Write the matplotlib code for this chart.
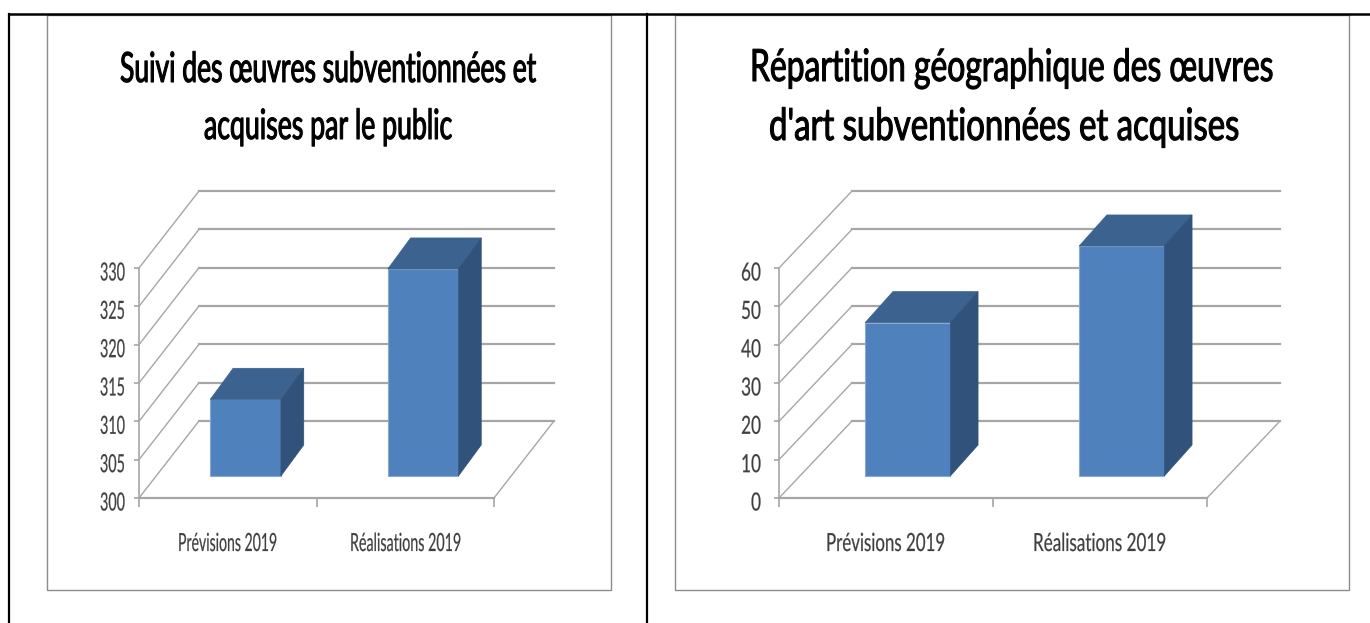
import matplotlib
matplotlib.use('Agg')
import matplotlib.pyplot as plt
from matplotlib.patches import Rectangle
from matplotlib.patheffects import AbstractPathEffect
from matplotlib.transforms import Affine2D

# chart data
categories = ['Prévisions 2019', 'Réalisations 2019']
title_left = ['Suivi des œuvres subventionnées et', 'acquises par le public']
values_left = [310, 327]
ticks_left = [300, 305, 310, 315, 320, 325, 330]
title_right = ['Répartition géographique des œuvres', "d'art subventionnées et acquises"]
values_right = [40, 60]
ticks_right = [0, 10, 20, 30, 40, 50, 60]

W, H = 1370, 623
plt.rcParams['font.family'] = ['Lato', 'DejaVu Sans']

GREY = '#a6a6a6'
LABEL = '#3f3f3f'

fig = plt.figure(figsize=(W / 100, H / 100), dpi=100, facecolor='white')
renderer = fig.canvas.get_renderer()

# page layer in pixels, y going down
page = fig.add_axes([0, 0, 1, 1])
page.set_xlim(0, W)
page.set_ylim(H, 0)
page.axis('off')


class Squeeze(AbstractPathEffect):
    # the reference text is stretched tall, so narrow the glyphs around x = cx
    def __init__(self, sx, cx, dy=0, stroke=0.0):
        super().__init__()
        self.sx, self.cx, self.dy, self.stroke = sx, cx, dy, stroke

    def draw_path(self, renderer, gc, tpath, affine, rgbFace=None):
        squeeze = Affine2D().translate(-self.cx, self.dy).scale(self.sx, 1).translate(self.cx, 0)
        gc.set_linewidth(self.stroke)
        renderer.draw_path(gc, tpath, affine + squeeze, rgbFace)


def fitted_text(s, x0, x1, y, size, color='black', stroke=0.0, ha='center'):
    # text that ends up spanning x0..x1 in pixels, y is the baseline
    xa = x1 if ha == 'right' else (x0 + x1) / 2
    t = page.text(xa, y, s, ha=ha, va='baseline', fontsize=size, color=color)
    w = t.get_window_extent(renderer).width
    t.set_path_effects([Squeeze((x1 - x0) / w, xa, stroke=stroke)])
    return t


def draw_chart(box, front, depth, title_lines, title_spans, title_base, title_size, title_ha,
               values, ticks, tick_right, tick_width, cat_spans):
    # box is the grey chart frame, front is the front plane (x0, x1, y_bottom, y_top) in pixels
    page.add_patch(Rectangle((box[0], box[1]), box[2] - box[0], box[3] - box[1],
                             fc='white', ec='#8c8c8c', lw=1))
    for s, span, base in zip(title_lines, title_spans, title_base):
        fitted_text(s, span[0], span[1], base, title_size, stroke=0.75, ha=title_ha)
    for c, span in zip(categories, cat_spans):
        fitted_text(c, span[0], span[1], 551, 18, LABEL, stroke=0.15)

    x0, x1, yb, yt = front
    ax = fig.add_axes([x0 / W, 1 - yb / H, (x1 - x0) / W, (yb - yt) / H])
    ax.patch.set_alpha(0)
    ax.set_xlim(0, 2)
    ax.set_ylim(ticks[0], ticks[-1])
    for s in ['top', 'right']:
        ax.spines[s].set_visible(False)
    ax.spines['left'].set_color(GREY)
    ax.spines['left'].set_linewidth(1.2)
    ax.spines['bottom'].set_color(GREY)
    ax.spines['bottom'].set_linewidth(1.6)
    ax.set_xticks([0, 1, 2])
    ax.set_xticklabels([])
    ax.set_yticks(ticks)
    pad_px = x0 - tick_right - 5
    ax.tick_params(axis='y', length=5 * 0.72, color=GREY, width=1.2, labelsize=18,
                   labelcolor=LABEL, pad=pad_px * 0.72)
    ax.tick_params(axis='x', length=9 * 0.72, color=GREY, width=1.2)
    labels = ax.get_yticklabels()
    sx = tick_width / labels[-1].get_window_extent(renderer).width
    for lab in labels:
        lab.set_path_effects([Squeeze(sx, tick_right, dy=-3, stroke=0.15)])

    # depth of the 3d box in data units
    dx = depth[0] / ((x1 - x0) / 2)
    dy = depth[1] / ((yb - yt) / (ticks[-1] - ticks[0]))
    for t in ticks:
        ax.plot([0, dx], [t, t + dy], color=GREY, lw=1, clip_on=False)
        ax.plot([dx, 2 + dx], [t + dy, t + dy], color=GREY, lw=1.6, clip_on=False)
    ax.plot([2, 2 + dx], [ticks[0], ticks[0] + dy], color=GREY, lw=1, clip_on=False)

    # bars sit inside the floor, between two depths
    d1, d2, d2x = 0.286, 0.689, 0.666
    base = ticks[0]
    bw = 0.398
    for i, v in enumerate(values):
        left = i + (1 - bw) / 2 + 0.004
        right = left + bw
        fx, fy = d1 * dx, d1 * dy
        bx, by = d2x * dx, d2 * dy
        h = v - base
        # front, top and side faces
        ax.fill([left + fx, right + fx, right + fx, left + fx],
                [base + fy, base + fy, base + fy + h, base + fy + h],
                fc='#4f81bd', ec='#8aa9d0', lw=0.8, clip_on=False, zorder=5)
        ax.fill([left + fx, right + fx, right + bx, left + bx],
                [base + fy + h, base + fy + h, base + by + h, base + by + h],
                fc='#3c6290', ec='#3c6290', lw=0.5, clip_on=False, zorder=5)
        ax.fill([right + fx, right + bx, right + bx, right + fx],
                [base + fy, base + by, base + by + h, base + fy + h],
                fc='#31527b', ec='#31527b', lw=0.5, clip_on=False, zorder=5)


draw_chart((47, 15, 611, 590), (139, 494, 498, 268), (60, 77),
           title_left, [(120, 536), (204, 452)], (82, 139), 30, 'center',
           values_left, ticks_left, 125, 25, [(178, 277), (350, 461)])
draw_chart((675, 15, 1349, 590), (779, 1207, 498, 268), (73, 77),
           title_right, [(750, 1274), (769, 1240)], (81, 140), 32, 'right',
           values_right, ticks_right, 761, 20, [(826, 945), (1033, 1166)])

# table borders on top of the frames
for x in [9, 647]:
    page.plot([x, x], [14, H], color='black', lw=1.6, zorder=10)
page.plot([9, W], [14, 14], color='black', lw=1.8, zorder=10)

fig.savefig('out.png', dpi=100)
